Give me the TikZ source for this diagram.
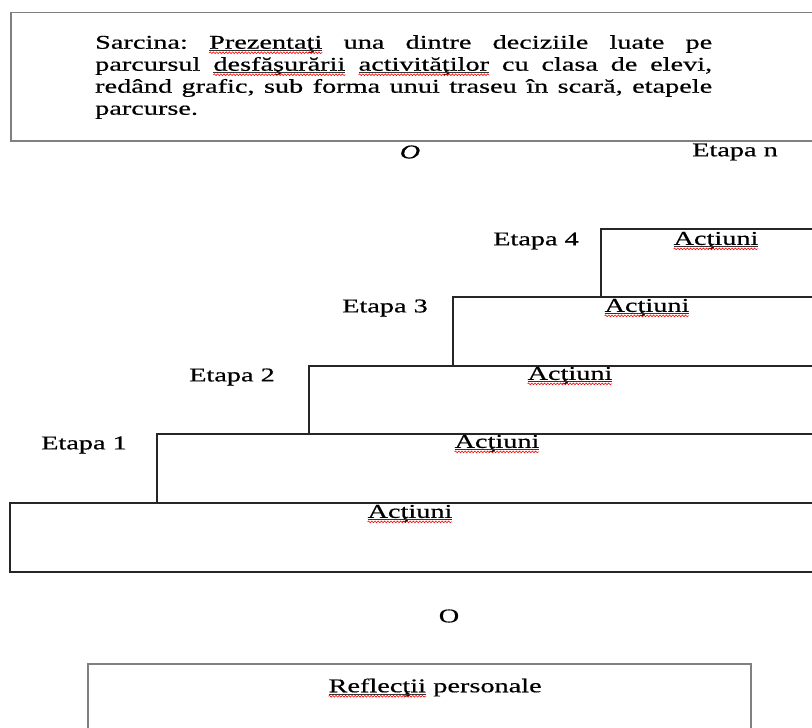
\documentclass[tikz,border=0pt]{standalone}
\usepackage{fontspec}
\setmainfont{Liberation Serif}[FakeStretch=1.45,FakeBold=0.6]
\usetikzlibrary{decorations.pathmorphing}

% word flagged by the spell checker: thin underline plus a red wavy line
\newcommand\spell[1]{\tikz[baseline=(sw.base)]{%
  \node[inner sep=0pt,outer sep=0pt,anchor=base] (sw) {#1};
  \draw[line width=0.45pt,black!80] ([yshift=-1.6pt]sw.base west) -- ([yshift=-1.6pt]sw.base east);
  \draw[red,line width=0.6pt,decorate,
        decoration={snake,amplitude=0.9pt,segment length=3.2pt}]
        ([yshift=-4pt]sw.base west) -- ([yshift=-4pt]sw.base east);}}

\tikzset{
  txt/.style={inner sep=0pt,font=\fontsize{19.5}{22}\selectfont},
  stair/.style={line width=1.3pt,black!85},
  frame/.style={line width=1.3pt,black!50},
}

\begin{document}
\begin{tikzpicture}[x=1pt,y=-1pt]
\useasboundingbox (0,0) rectangle (812,728);

% task box at the top
\draw[frame] (812,12.5) -- (11,12.5) -- (11,141) -- (812,141);
\node[txt,anchor=north west,text width=617pt,align=justify] (task) at (95,35)
  {\frenchspacing\hyphenpenalty=10000 Sarcina: \spell{Prezentaţi} una dintre deciziile luate pe\linebreak
   parcursul \spell{desfăşurării} \spell{activităţilor} cu clasa de elevi,\linebreak
   redând grafic, sub forma unui traseu în scară, etapele\linebreak
   parcurse.};

\node[txt] (otop) at (410,152) {\itshape O};
\node[txt] (etn) at (735,152) {Etapa n};

% staircase of stages
\draw[stair] (812,229) -- (601,229) -- (601,297);
\draw[stair] (812,297) -- (453,297) -- (453,366);
\draw[stair] (812,366) -- (309,366) -- (309,434);
\draw[stair] (812,434) -- (157,434) -- (157,503);
\draw[stair] (812,503) -- (10,503) -- (10,572) -- (812,572);

\node[txt] (et4) at (536,241) {Etapa 4};
\node[txt] (et3) at (385,308) {Etapa 3};
\node[txt] (et2) at (232,377) {Etapa 2};
\node[txt] (et1) at (84,445) {Etapa 1};

\node[txt] (a4) at (716,241) {\spell{Acţiuni}};
\node[txt] (a3) at (647,308) {\spell{Acţiuni}};
\node[txt] (a2) at (570,376) {\spell{Acţiuni}};
\node[txt] (a1) at (497,444) {\spell{Acţiuni}};
\node[txt] (a0) at (410,514) {\spell{Acţiuni}};

\node[txt] (obot) at (449,616) {O};

% personal reflections box
\draw[frame] (88,728) -- (88,664) -- (751,664) -- (751,728);
\node[txt] (refl) at (435,688) {\spell{Reflecţii} personale};
\end{tikzpicture}
\end{document}
